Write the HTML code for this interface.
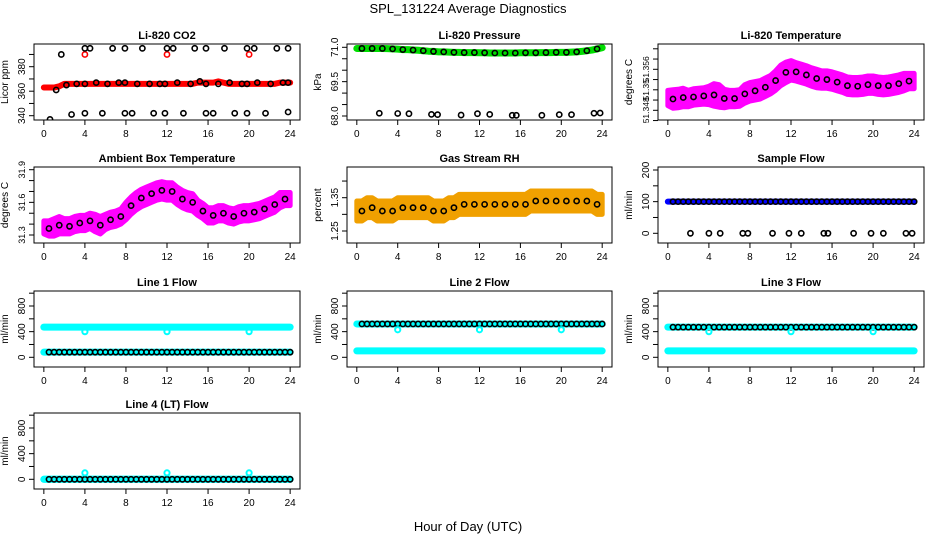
<!DOCTYPE html>
<html><head><meta charset="utf-8"><style>
body{margin:0;background:#fff}
svg{display:block;font-family:"Liberation Sans",sans-serif}
</style></head><body>
<svg id="c" width="936" height="540" viewBox="0 0 936 540">
<text x="468" y="13" text-anchor="middle" font-size="13">SPL_131224  Average Diagnostics</text>
<text x="468" y="531" text-anchor="middle" font-size="13">Hour of Day (UTC)</text>
</svg>
<script>
// ---- data ----
const hours = [0,0.5,1,1.5,2,2.5,3,3.5,4,4.5,5,5.5,6,6.5,7,7.5,8,8.5,9,9.5,10,10.5,11,11.5,12,12.5,13,13.5,14,14.5,15,15.5,16,16.5,17,17.5,18,18.5,19,19.5,20,20.5,21,21.5,22,22.5,23,23.5,24];
const co2Band = [363,363,363,364,366,366,366,366,366,366,366,366,366,366,366,366,366,366,366,366,366,366,366,366,366,366,366,366,366,366,367,367,367,367,368,367,366,366,366,366,366,366,366,366,366,366,367,367,367];
const co2RedOutX = [4,12,20];
const co2RedOutY = [390,390,390];
const co2BlackX = [4,4.5,6.7,7.9,9.6,12,12.6,14.7,15.8,17.6,19.8,20.5,22.7,23.8,1.7,2.7,4,5.7,7.9,8.6,10.7,11.8,13.6,15.8,16.5,18.6,19.8,21.6,23.8,0.6,1.2,2.2,3.2,4,5.1,6.2,7.3,7.9,9.1,10.3,11.3,11.8,13,14.3,15.2,15.8,17,18.1,19.3,19.8,20.8,22.1,23.3,23.8];
const co2BlackY = [395,395,395,395,395,395,395,395,395,395,395,395,395,395,390,341,342,342,342,342,342,342,342,342,342,342,342,342,343,337,361,365,366,366,367,366,367,367,366,366,366,366,367,366,368,366,366,367,366,366,367,366,367,367];
const presBand = [70.95,70.95,70.95,70.95,70.95,70.95,70.94,70.93,70.92,70.9,70.9,70.88,70.87,70.85,70.83,70.82,70.8,70.8,70.79,70.78,70.78,70.77,70.77,70.77,70.76,70.76,70.75,70.75,70.75,70.75,70.75,70.75,70.76,70.76,70.76,70.76,70.77,70.77,70.77,70.78,70.78,70.78,70.79,70.8,70.82,70.85,70.88,70.93,70.98];
const presOutX = [2.2,4,5.1,7.3,7.9,10.2,11.8,13,15.2,15.6,18.1,19.8,21,23.2,23.8];
const presOutY = [68.12,68.11,68.1,68.07,68.06,68.04,68.1,68.07,68.03,68.03,68.03,68.06,68.06,68.12,68.13];
const tempMean = [51.3504,51.3502,51.3503,51.3505,51.3503,51.3506,51.3507,51.3508,51.3509,51.351,51.3508,51.3503,51.3503,51.3503,51.3504,51.3512,51.3516,51.3518,51.352,51.3525,51.353,51.3538,51.3548,51.3554,51.3558,51.3555,51.3552,51.3549,51.3545,51.3542,51.354,51.354,51.3538,51.3535,51.3532,51.3528,51.3527,51.3527,51.3528,51.353,51.353,51.3528,51.3527,51.3528,51.353,51.3532,51.3535,51.3537,51.3537];
const tempSpread = [0.0015,0.0018,0.0018,0.0018,0.0016,0.0016,0.0016,0.0016,0.0018,0.0022,0.0022,0.0018,0.0016,0.0016,0.0016,0.0018,0.0018,0.0018,0.0018,0.0018,0.0018,0.0019,0.0020,0.0020,0.0019,0.0018,0.0018,0.0018,0.0018,0.0018,0.0017,0.0017,0.0017,0.0017,0.0017,0.0017,0.0017,0.0017,0.0017,0.0017,0.0017,0.0017,0.0017,0.0017,0.0017,0.0017,0.0017,0.0015,0.0015];
const ambMean = [31.37,31.36,31.37,31.39,31.38,31.38,31.4,31.41,31.41,31.43,31.41,31.39,31.42,31.44,31.45,31.47,31.52,31.57,31.61,31.64,31.66,31.68,31.7,31.71,31.7,31.7,31.66,31.63,31.61,31.6,31.55,31.52,31.48,31.48,31.5,31.5,31.48,31.47,31.49,31.5,31.5,31.51,31.52,31.54,31.56,31.58,31.62,31.63,31.63];
const ambSpread = [0.06,0.07,0.08,0.08,0.07,0.07,0.07,0.07,0.07,0.07,0.08,0.08,0.07,0.07,0.07,0.07,0.08,0.08,0.08,0.08,0.08,0.08,0.08,0.08,0.08,0.08,0.08,0.08,0.08,0.08,0.07,0.07,0.07,0.07,0.07,0.07,0.07,0.07,0.07,0.07,0.07,0.07,0.07,0.07,0.07,0.07,0.07,0.06,0.06];
const rhMean = [1.31,1.31,1.32,1.32,1.31,1.31,1.31,1.31,1.32,1.32,1.32,1.32,1.32,1.32,1.32,1.31,1.31,1.31,1.32,1.32,1.33,1.33,1.33,1.33,1.33,1.33,1.33,1.33,1.33,1.33,1.33,1.33,1.33,1.33,1.34,1.34,1.34,1.34,1.34,1.34,1.34,1.34,1.34,1.34,1.34,1.34,1.34,1.33,1.33];
const rhSpread = [0.03,0.03,0.03,0.03,0.03,0.03,0.03,0.03,0.03,0.03,0.03,0.03,0.03,0.03,0.03,0.03,0.03,0.03,0.03,0.03,0.03,0.03,0.03,0.03,0.03,0.03,0.03,0.03,0.03,0.03,0.03,0.03,0.03,0.03,0.03,0.03,0.03,0.03,0.03,0.03,0.03,0.03,0.03,0.03,0.03,0.03,0.03,0.03,0.03];
const sampleFlow = 100;
const sampleZeroX = [2.2,4,5.1,7.3,7.8,10.2,11.8,13,15.2,15.6,18.1,19.8,21,23.2,23.8];
const line1 = [470,80];
const line2 = [520,100];
const line3 = [470,100];
const line4 = [0,0];
const flowOutX = [4,12,20];
const line1Out = [400,400,400];
const line2Out = [430,430,430];
const line3Out = [400,400,400];
const line4Out = [100,100,100];

// ---- drawing ----
const NS="http://www.w3.org/2000/svg", svg=document.getElementById('c');
function mk(tag,attrs,parent){const e=document.createElementNS(NS,tag);for(const k in attrs)e.setAttribute(k,attrs[k]);(parent||svg).appendChild(e);return e;}
function panel(cfg){
  const g=mk('g',{});
  
  
  const [l,t,r,b]=cfg.box;
  const X=v=>l+(v+0.96)/25.92*(r-l);
  const Y=v=>cfg.p1+(v-cfg.v1)*(cfg.p2-cfg.p1)/(cfg.v2-cfg.v1);
  const tt=mk('text',{x:(l+r)/2,y:t-5,'text-anchor':'middle','font-size':11,'font-weight':'bold'},g);tt.textContent=cfg.title;
  
  
  for(let h=0;h<=24;h+=4){const px=X(h);mk('line',{x1:px,y1:b,x2:px,y2:b+5,stroke:'#000'},g);
    const tx=mk('text',{x:px,y:b+17,'text-anchor':'middle','font-size':10},g);tx.textContent=h;}
  mk('line',{x1:X(0),y1:b,x2:X(24),y2:b,stroke:'#000'},g);
  for(const v of cfg.ticks){const py=Y(v);mk('line',{x1:l-5,y1:py,x2:l,y2:py,stroke:'#000'},g);}
  const fs=cfg.lfs||10;
  for(let i=0;i<cfg.labels.length;i++){const py=Y(cfg.labels[i]);
    const tx=mk('text',{x:l-9,y:py,'text-anchor':'middle','font-size':fs,transform:`rotate(-90 ${l-9} ${py})`},g);tx.textContent=cfg.labelText[i];}
  const yl=mk('text',{x:cfg.ylx,y:(t+b)/2,'text-anchor':'middle','font-size':10,transform:`rotate(-90 ${cfg.ylx} ${(t+b)/2})`},g);yl.textContent=cfg.ylab;
  
  
  const clip='cl'+cfg.name;const cp=mk('clipPath',{id:clip},g);mk('rect',{x:l,y:t,width:r-l,height:b-t},cp);
  const d=mk('g',{'clip-path':`url(#${clip})`},g);
  cfg.draw(d,X,Y);
  mk('rect',{x:l,y:t,width:r-l,height:b-t,fill:'none',stroke:'#000'},g);
}
function circ(p,x,y,col,sw){const c=mk('circle',{cx:x,cy:y,r:2.6,fill:'none',stroke:col,'stroke-width':sw||1.6},p);
  
  return c;}
function bandLine(p,X,Y,vals,col,w){let s='';hours.forEach((h,i)=>{s+=(i?'L':'M')+X(h)+','+Y(vals[i]);});
  const e=mk('path',{d:s,fill:'none',stroke:col,'stroke-width':w,'stroke-linejoin':'round','stroke-linecap':'round'},p);
  
  }
function bandArea(p,X,Y,mean,sp,col){let s='';hours.forEach((h,i)=>{s+=(i?'L':'M')+X(h)+','+Y(mean[i]+sp[i]);});
  for(let i=hours.length-1;i>=0;i--)s+='L'+X(hours[i])+','+Y(mean[i]-sp[i]);
  const e=mk('path',{d:s+'Z',fill:col,stroke:col,'stroke-width':5,'stroke-linejoin':'round'},p);
  
  }
function meanDots(p,X,Y,mean,step){for(let i=1;i<hours.length;i+=step)circ(p,X(hours[i]),Y(mean[i]),'#000');}
const flowTicks=[0,200,400,600,800,1000];
function flowDraw(vals,outs,blackIdx){return (p,X,Y)=>{
  bandLine(p,X,Y,hours.map(()=>vals[0]),'#00ffff',7);
  bandLine(p,X,Y,hours.map(()=>vals[1]),'#00ffff',7);
  for(let i=1;i<hours.length;i++)circ(p,X(hours[i]),Y(vals[blackIdx]),'#000');
  flowOutX.forEach((h,i)=>circ(p,X(h),Y(outs[i]),'#00ffff',2));};}

panel({name:'panel-co2',title:'Li-820 CO2',box:[34,44,300,120],v1:340,p1:115.7,v2:380,p2:66.7,ticks:[340,350,360,370,380,390],labels:[340,360,380],labelText:['340','360','380'],ylab:'Licor ppm',ylx:8,
 draw:(p,X,Y)=>{bandLine(p,X,Y,co2Band,'#ff0000',6);co2RedOutX.forEach((h,i)=>circ(p,X(h),Y(co2RedOutY[i]),'#ff0000'));co2BlackX.forEach((h,i)=>circ(p,X(h),Y(co2BlackY[i]),'#000'));}});
panel({name:'panel-pressure',title:'Li-820 Pressure',box:[347,44,612,120],v1:68,p1:116,v2:71,p2:47.3,ticks:[68,68.5,69,69.5,70,70.5,71],labels:[68,69.5,71],labelText:['68.0','69.5','71.0'],ylab:'kPa',ylx:321,
 draw:(p,X,Y)=>{bandLine(p,X,Y,presBand,'#00dd00',7);meanDots(p,X,Y,presBand,2);presOutX.forEach((h,i)=>circ(p,X(h),Y(presOutY[i]),'#000'));}});
panel({name:'panel-li820-temp',title:'Li-820 Temperature',box:[658,44,924,120],v1:51.348,p1:110.3,v2:51.356,p2:69.3,ticks:[51.346,51.348,51.35,51.352,51.354,51.356,51.358,51.36],labels:[51.348,51.352,51.356],labelText:['51.348','51.35','51.356'],lfs:8.5,ylab:'degrees C',ylx:632,
 draw:(p,X,Y)=>{bandArea(p,X,Y,tempMean,tempSpread,'#ff00ff');meanDots(p,X,Y,tempMean,2);}});
panel({name:'panel-ambient-temp',title:'Ambient Box Temperature',box:[34,167,300,243],v1:31.3,p1:235,v2:31.9,p2:169.7,ticks:[31.3,31.4,31.5,31.6,31.7,31.8,31.9],labels:[31.3,31.6,31.9],labelText:['31.3','31.6','31.9'],lfs:9,ylab:'degrees C',ylx:8,
 draw:(p,X,Y)=>{bandArea(p,X,Y,ambMean,ambSpread,'#ff00ff');meanDots(p,X,Y,ambMean,2);}});
panel({name:'panel-gas-rh',title:'Gas Stream RH',box:[347,167,612,243],v1:1.25,p1:231,v2:1.35,p2:197.7,ticks:[1.25,1.3,1.35,1.4],labels:[1.25,1.35],labelText:['1.25','1.35'],ylab:'percent',ylx:321,
 draw:(p,X,Y)=>{bandArea(p,X,Y,rhMean,rhSpread,'#f0a000');meanDots(p,X,Y,rhMean,2);}});
panel({name:'panel-sample-flow',title:'Sample Flow',box:[658,167,924,243],v1:0,p1:233.3,v2:200,p2:170,ticks:[0,50,100,150,200],labels:[0,100,200],labelText:['0','100','200'],ylab:'ml/min',ylx:632,
 draw:(p,X,Y)=>{bandLine(p,X,Y,hours.map(()=>sampleFlow),'#0000ff',6);meanDots(p,X,Y,hours.map(()=>sampleFlow),1);sampleZeroX.forEach(h=>circ(p,X(h),Y(0),'#000'));}});
panel({name:'panel-line1-flow',title:'Line 1 Flow',box:[34,291,300,367],v1:0,p1:357.3,v2:800,p2:306,ticks:flowTicks,labels:[0,400,800],labelText:['0','400','800'],ylab:'ml/min',ylx:8,draw:flowDraw(line1,line1Out,1)});
panel({name:'panel-line2-flow',title:'Line 2 Flow',box:[347,291,612,367],v1:0,p1:357.3,v2:800,p2:306,ticks:flowTicks,labels:[0,400,800],labelText:['0','400','800'],ylab:'ml/min',ylx:321,draw:flowDraw(line2,line2Out,0)});
panel({name:'panel-line3-flow',title:'Line 3 Flow',box:[658,291,924,367],v1:0,p1:357.3,v2:800,p2:306,ticks:flowTicks,labels:[0,400,800],labelText:['0','400','800'],ylab:'ml/min',ylx:632,draw:flowDraw(line3,line3Out,0)});
panel({name:'panel-line4-flow',title:'Line 4 (LT) Flow',box:[34,413,300,489],v1:0,p1:479.3,v2:800,p2:428,ticks:flowTicks,labels:[0,400,800],labelText:['0','400','800'],ylab:'ml/min',ylx:8,draw:flowDraw(line4,line4Out,0)});
</script>
</body></html>
